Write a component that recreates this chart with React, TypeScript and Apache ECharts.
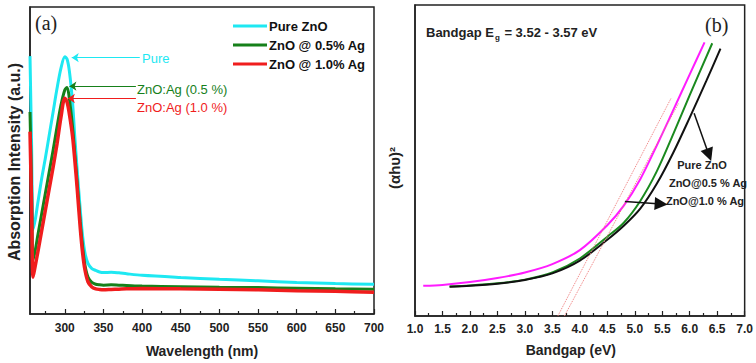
import React, { useEffect, useRef } from "react";
import * as echarts from "echarts";

// ---------- Panel (a): absorption spectra ----------
const wavelengths = [255, 257, 259, 262, 265, 270, 275, 280, 285, 290, 295, 300, 303, 306, 310, 313, 316, 320, 323, 326, 330, 335, 340, 345, 350, 360, 370, 380, 400, 450, 500, 550, 600, 650, 700];
const absPure = [0.84, 0.56, 0.275, 0.31, 0.36, 0.44, 0.51, 0.585, 0.66, 0.735, 0.8, 0.838, 0.83, 0.79, 0.69, 0.575, 0.47, 0.34, 0.255, 0.2, 0.165, 0.148, 0.142, 0.137, 0.135, 0.136, 0.134, 0.131, 0.126, 0.119, 0.113, 0.108, 0.103, 0.099, 0.097];
const absAg05 = [0.658, 0.42, 0.175, 0.21, 0.255, 0.325, 0.395, 0.465, 0.535, 0.61, 0.68, 0.73, 0.738, 0.7, 0.61, 0.52, 0.43, 0.3, 0.22, 0.16, 0.12, 0.103, 0.097, 0.095, 0.094, 0.095, 0.094, 0.093, 0.091, 0.089, 0.087, 0.086, 0.084, 0.082, 0.081];
const absAg10 = [0.594, 0.36, 0.12, 0.16, 0.2, 0.27, 0.34, 0.41, 0.48, 0.555, 0.64, 0.703, 0.69, 0.65, 0.58, 0.5, 0.41, 0.28, 0.2, 0.145, 0.105, 0.088, 0.082, 0.08, 0.079, 0.08, 0.081, 0.082, 0.083, 0.082, 0.081, 0.079, 0.076, 0.074, 0.071];
const wlMajorTicks = [300, 350, 400, 450, 500, 550, 600, 650, 700];
const wlMinorTicks = [275, 325, 375, 425, 475, 525, 575, 625, 675];
const legendNames = ["Pure ZnO", "ZnO @ 0.5% Ag", "ZnO @ 1.0% Ag"];
const peakLabels = ["Pure", "ZnO:Ag (0.5 %)", "ZnO:Ag (1.0 %)"];
// arrow [fromX, toX, y] in data units
const peakArrows = [
  [397, 309, 0.835],
  [392, 306, 0.742],
  [392, 304, 0.702],
];

// ---------- Panel (b): Tauc plot ----------
const taucPureX = [1.15, 1.5, 2.0, 2.5, 3.0, 3.5, 4.0, 4.5, 4.8, 5.1, 5.4, 5.7, 6.0, 6.27];
const taucPureY = [0.097, 0.1, 0.109, 0.122, 0.14, 0.167, 0.212, 0.292, 0.355, 0.44, 0.548, 0.662, 0.777, 0.88];
const tauc05X = [1.63, 2.0, 2.5, 3.0, 3.5, 4.0, 4.5, 4.8, 5.1, 5.4, 5.7, 6.0, 6.41];
const tauc05Y = [0.095, 0.098, 0.105, 0.117, 0.14, 0.185, 0.255, 0.3, 0.37, 0.465, 0.585, 0.71, 0.877];
const tauc10X = [1.63, 2.0, 2.5, 3.0, 3.5, 4.0, 4.5, 4.8, 5.1, 5.4, 5.7, 6.0, 6.3, 6.56];
const tauc10Y = [0.094, 0.097, 0.104, 0.116, 0.137, 0.178, 0.245, 0.29, 0.345, 0.425, 0.525, 0.638, 0.755, 0.86];
// tangent (extrapolation) lines: [x0, y0, x1, y1]
const tangents = [
  [3.6, 0, 5.66, 0.7],
  [3.72, 0, 5.8, 0.685],
];
// arrows: [x0, y0, x1, y1]
const taucArrows = [
  [6.08, 0.652, 6.35, 0.518],
  [4.82, 0.368, 5.48, 0.36],
];
const taucLabels = ["Pure ZnO", "ZnO@0.5 % Ag", "ZnO@1.0 % Ag"];

const CYAN = "#1ee8f2";
const GREEN = "#16801a";
const RED = "#f01d1d";
const MAGENTA = "#ff1cff";
const GREEN2 = "#1a8a1e";
const BLACK = "#111111";
const AX = "#222222";
const FONT = "Liberation Sans, Arial, sans-serif";

function zip(xs: number[], ys: number[]) {
  return xs.map((x, i) => [x, ys[i]]);
}

export default function App() {
  const ref = useRef<HTMLDivElement>(null);
  useEffect(() => {
    if (!ref.current) return;
    const chart = echarts.init(ref.current, undefined, { renderer: "svg" });
    const leftColors = [CYAN, GREEN, RED];
    const leftData = [absPure, absAg05, absAg10];
    const leftWidths = [3, 3, 3.5];

    const leftSeries = leftData.map((vals, i) => ({
      type: "line",
      name: legendNames[i],
      xAxisIndex: 0,
      yAxisIndex: 0,
      data: zip(wavelengths, vals),
      showSymbol: false,
      smooth: 0.3,
      color: leftColors[i],
      lineStyle: { width: leftWidths[i], color: leftColors[i] },
      z: 3 + i,
      markLine: {
        silent: true,
        symbol: ["none", "arrow"],
        symbolSize: 7,
        lineStyle: { type: "solid", width: 1.2, color: leftColors[i] },
        label: { show: false },
        data: [
          [
            { coord: [peakArrows[i][0], peakArrows[i][2]] },
            { coord: [peakArrows[i][1], peakArrows[i][2]] },
          ],
        ],
      },
    }));

    const rightSeries: any[] = [
      {
        type: "line",
        name: "Tauc Pure ZnO",
        xAxisIndex: 2,
        yAxisIndex: 1,
        data: zip(taucPureX, taucPureY),
        showSymbol: false,
        smooth: 0.3,
        lineStyle: { width: 2, color: MAGENTA },
        color: MAGENTA,
        markLine: {
          silent: true,
          symbol: ["none", "none"],
          lineStyle: { type: "dotted", width: 1, color: "#f07a7a" },
          label: { show: false },
          data: tangents.map((t) => [{ coord: [t[0], t[1]] }, { coord: [t[2], t[3]] }]),
        },
      },
      {
        type: "line",
        name: "Tauc ZnO@0.5",
        xAxisIndex: 2,
        yAxisIndex: 1,
        data: zip(tauc05X, tauc05Y),
        showSymbol: false,
        smooth: 0.3,
        lineStyle: { width: 2, color: GREEN2 },
        color: GREEN2,
      },
      {
        type: "line",
        name: "Tauc ZnO@1.0",
        xAxisIndex: 2,
        yAxisIndex: 1,
        data: zip(tauc10X, tauc10Y),
        showSymbol: false,
        smooth: 0.3,
        lineStyle: { width: 2, color: BLACK },
        color: BLACK,
        markLine: {
          silent: true,
          symbol: ["none", "triangle"],
          symbolSize: 13,
          lineStyle: { type: "solid", width: 1.5, color: BLACK },
          itemStyle: { color: BLACK },
          label: { show: false },
          data: taucArrows.map((t) => [{ coord: [t[0], t[1]] }, { coord: [t[2], t[3]] }]),
        },
      },
    ];

    const option: any = {
      animation: false,
      backgroundColor: "#ffffff",
      textStyle: { fontFamily: FONT },
      grid: [
        { left: 30, top: 7, width: 344, height: 310, show: true, borderColor: AX, borderWidth: 1.5, backgroundColor: "transparent" },
        { left: 415, top: 5, width: 335, height: 311, show: true, borderColor: AX, borderWidth: 1.5, backgroundColor: "transparent" },
      ],
      xAxis: [
        {
          type: "value",
          gridIndex: 0,
          min: 255,
          max: 700,
          position: "bottom",
          axisLine: { show: true, lineStyle: { color: AX, width: 1.5 } },
          axisTick: { show: true, inside: true, length: 5, customValues: wlMajorTicks, lineStyle: { color: AX, width: 1.2 } },
          axisLabel: { customValues: wlMajorTicks, fontWeight: "bold", fontSize: 12, color: AX, margin: 8, fontFamily: FONT },
          splitLine: { show: false },
          name: "Wavelength (nm)",
          nameLocation: "middle",
          nameGap: 30,
          nameTextStyle: { fontWeight: "bold", fontSize: 14, color: AX, fontFamily: FONT },
        },
        {
          type: "value",
          gridIndex: 0,
          min: 255,
          max: 700,
          position: "bottom",
          axisLine: { show: false },
          axisTick: { show: true, inside: true, length: 3, customValues: wlMinorTicks, lineStyle: { color: AX, width: 1.2 } },
          axisLabel: { show: false, customValues: wlMinorTicks },
          splitLine: { show: false },
        },
        {
          type: "value",
          gridIndex: 1,
          min: 1,
          max: 7,
          interval: 0.5,
          axisLine: { show: true, lineStyle: { color: AX, width: 1.5 } },
          axisTick: { show: true, inside: true, length: 5, lineStyle: { color: AX, width: 1.2 } },
          minorTick: { show: true, splitNumber: 2, length: 3, lineStyle: { color: AX, width: 1.2 } },
          axisLabel: { formatter: (v: number) => v.toFixed(1), fontWeight: "bold", fontSize: 12, color: AX, margin: 7, fontFamily: FONT },
          splitLine: { show: false },
          name: "Bandgap (eV)",
          nameLocation: "middle",
          nameGap: 27,
          nameTextStyle: { fontWeight: "bold", fontSize: 14, color: AX, fontFamily: FONT, padding: [0, 18, 0, 0] },
        },
      ],
      yAxis: [
        {
          type: "value",
          gridIndex: 0,
          min: 0,
          max: 1,
          axisLine: { show: true, lineStyle: { color: AX, width: 1.5 } },
          axisTick: { show: false },
          axisLabel: { show: false },
          splitLine: { show: false },
        },
        {
          type: "value",
          gridIndex: 1,
          min: 0,
          max: 1,
          axisLine: { show: true, lineStyle: { color: AX, width: 1.5 } },
          axisTick: { show: false },
          axisLabel: { show: false },
          splitLine: { show: false },
        },
      ],
      legend: {
        data: legendNames,
        orient: "vertical",
        left: 228,
        top: 13,
        itemWidth: 34,
        itemHeight: 3,
        itemGap: 3,
        icon: "rect",
        selectedMode: false,
        textStyle: { fontWeight: "bold", fontSize: 13, color: "#111", fontFamily: FONT, lineHeight: 16, padding: [0, 0, 0, -3] },
      },
      graphic: [
        { type: "text", left: 35, top: 13, style: { text: "(a)", font: "20px 'Liberation Serif', serif", fill: AX } },
        { type: "text", left: 705, top: 15, style: { text: "(b)", font: "20px 'Liberation Serif', serif", fill: AX } },
        ...peakLabels.map((t, i) => ({
          type: "text",
          x: [142, 137, 137][i],
          y: [58, 89, 107][i],
          style: { text: t, font: `13px ${FONT}`, fill: [CYAN, GREEN, RED][i], align: "left", verticalAlign: "middle" },
        })),
        {
          type: "text",
          x: 14,
          y: 162,
          rotation: Math.PI / 2,
          style: { text: "Absorption Intensity (a.u.)", font: `bold 16px ${FONT}`, fill: AX, align: "center", verticalAlign: "middle" },
        },
        {
          type: "text",
          x: 394,
          y: 168,
          rotation: Math.PI / 2,
          style: { text: "(αhυ)²", font: `bold 15px ${FONT}`, fill: AX, align: "center", verticalAlign: "middle" },
        },
        {
          type: "text",
          x: 426,
          y: 32,
          style: {
            text: "{a|Bandgap E}{s|g}{a| = 3.52 - 3.57 eV}",
            verticalAlign: "middle",
            rich: {
              a: { fontSize: 13, fontWeight: "bold", fontFamily: FONT, fill: AX, color: AX },
              s: { fontSize: 8, fontWeight: "bold", fontFamily: FONT, fill: AX, color: AX, verticalAlign: "bottom", padding: [10, 1, 0, 1] },
            },
          },
        },
        ...taucLabels.map((t, i) => ({
          type: "text",
          x: [702, 708, 705][i],
          y: [165, 183, 201][i],
          style: { text: t, font: `bold 11px ${FONT}`, fill: AX, align: "center", verticalAlign: "middle" },
        })),
      ],
      series: [...leftSeries, ...rightSeries],
    };
    chart.setOption(option);
    return () => chart.dispose();
  }, []);
  return <div ref={ref} style={{ position: "absolute", left: 0, top: 0, width: 756, height: 363 }} />;
}
